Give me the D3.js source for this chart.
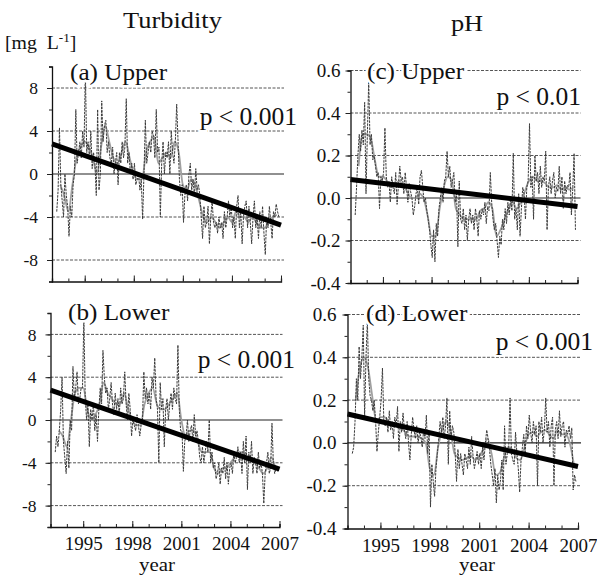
<!DOCTYPE html>
<html><head><meta charset="utf-8">
<script src="https://cdn.jsdelivr.net/npm/d3@7/dist/d3.min.js"></script>
<style>
body{margin:0;background:#fff}
svg{background:#fff}
</style>
</head><body><svg id="c" width="597" height="578"></svg>
<script>
// ---------- DATA ----------
// monthly anomalies, first value = April 1993
const startYear = 1993, startMonth = 4;
const turbUpper = [
 -3.5,-1.5,4.3,-1,-2.5,-4,0,-2,-3,
 -5.8,-3,-4,-1,0,6,1,2,3,1.5,4,2.5,
 9.5,2,3,1.5,4,0.5,2,1,-2,6,-1.5,0,
 6.8,3,4.5,5,2,3,1.5,1,2.5,0,1,2,
 -1,2,1,3,1.5,2.5,7,1,2,0,1,-0.5,
 1,-1,-0.5,0,-1.5,-0.5,-4.2,0,5,1,2,3,
 2,4,3.5,1.5,6,2,2.5,-4,1,3,0,2,
 1.5,3,0,4,2,1,3,6.5,3,-0.5,-2,-1,
 -4.5,-2,-1,-2.5,0,1,-1.5,-0.5,-2,0.5,-1.5,-1,
 -2,-4,-6,-3,-5,-4.5,-3,-6.5,-4,-2.5,-4.5,-5,
 -4.5,-5.5,-4,-5,-4.5,-6,-3.5,-5,-4,-2.5,-4,-3,
 -5,-4,-6,-3,-2,-5,-3.5,-6.5,-4,-3,-2.5,-5,
 -3,-4.5,-6.5,-4,-2.5,-5,-4,-6,-3.5,-5,-3,-5.5,
 -7.5,-4,-5,-3,-4.5,-6,-3.5,-4,-2.8,-3.5,-4];
const turbLower = [
 -3,-1.5,-2.5,-1,1,4,-2,-3.5,-5,
 -2,-4.5,0,-1,5,2,3,4.5,1.5,2,3,3,
 9.5,2,0,1.5,-2.5,1,0,1.5,-1,0.5,-2,1,
 3,1.5,6.5,4,2.5,3,1,2,3.5,1.5,0.5,2.5,
 1,2,0.5,3,1.5,2,4.5,1.5,0,2.5,1,-1.5,
 0,-0.5,-1,0.5,-0.5,-1.5,-0.5,0,4.5,2,3,1.5,
 2.5,1,4,3,5.8,2,1,-4,3.5,1,2,-2.5,
 1,2,0,1.5,2.5,1,3,2,1.5,7,1,-1,
 -1,-4.8,-2,-1.5,0,-2,-1,-0.5,-2,0.5,-1.5,-1,
 -2,-3.5,-4,-2.5,-4,-3,-2,-3,0,-4,-3,-4.5,
 -4,-5.5,-5,-4,-6,-4.5,-5,-3.5,-5.5,-4,-6,-4.5,
 -4,-5,-3,-4,-3.5,-2.5,-4,-3,-5,-2,-4,-1.5,
 -6.5,-3,-4,-2,-5,-3.5,-4,-5,-3,-4.5,-4,-5,
 -7.8,-5,-4,-3,-5,-4.5,-0.3,-4,-5,-4.5,-4.8];
const phUpper = [
 -0.08,0.05,0.2,0.3,0.22,0.32,0.25,0.45,0.02,
 0.3,0.55,0.25,0.3,0.18,0.2,0.15,0.1,0.12,-0.05,0.1,0.08,
 0.12,0.33,0.1,0.05,0.08,-0.02,0.1,0.05,0.02,0.12,-0.03,0.06,
 0.15,0.08,0.1,0.02,0.12,0.05,-0.02,0.07,0.03,0,-0.08,-0.04,
 0.02,0.05,-0.03,0.1,0.13,0.05,-0.02,0,-0.06,-0.1,-0.15,-0.22,
 -0.28,-0.15,-0.3,-0.12,-0.18,-0.05,0,0.05,-0.02,0.08,0.1,0.22,
 0.1,0.15,0.05,0.08,0.12,-0.02,0.02,-0.23,0.08,-0.1,-0.12,-0.05,
 -0.15,-0.08,-0.2,-0.1,-0.05,-0.12,-0.08,-0.15,-0.05,-0.1,-0.18,-0.06,
 -0.1,-0.05,-0.08,-0.02,-0.12,-0.04,-0.06,0.12,-0.02,-0.1,-0.15,-0.12,
 -0.2,-0.28,-0.18,-0.22,-0.1,-0.15,-0.05,-0.12,-0.02,-0.08,0,-0.06,
 0.21,-0.1,-0.05,-0.15,0.02,-0.18,-0.05,0.05,0.02,-0.1,0.05,0.08,
 0.35,0.05,0.1,-0.1,0.2,0.08,0.12,0.02,0.15,0.05,0.1,0.08,
 0.22,-0.15,0.05,0.1,0.02,0.08,0.12,0,0.05,0.03,0.15,0.02,
 0.1,-0.05,0.08,0.02,0.06,0.05,0.12,-0.08,0.04,0.21,-0.15];
const phLower = [
 -0.05,-0.02,0.1,0.3,0.2,0.45,0.3,0.4,0.55,
 0.12,0.4,0.57,0.3,0.22,0.2,0.15,0.2,0.1,-0.04,0.05,0.12,
 0.2,0.35,0.1,0.08,0.12,0.05,0.15,0.06,0.1,0.02,0.12,0.08,
 0.17,-0.04,0.1,0.05,0.14,0.06,0.02,0.1,0,-0.08,0.04,0.12,
 0.06,0.02,0.08,0,0.05,0.03,-0.02,0.06,0.02,0.13,-0.05,0.05,
 -0.3,-0.1,-0.18,-0.25,-0.12,-0.05,0.02,0.1,0.05,0.12,0.02,0.08,
 0.21,-0.1,0.15,0.02,0.08,0.05,-0.05,-0.18,-0.03,-0.12,-0.05,-0.1,
 -0.15,-0.05,-0.08,-0.12,-0.02,-0.1,0.03,-0.06,-0.12,-0.08,-0.04,-0.1,
 -0.05,-0.12,-0.02,-0.08,0,0.06,0.02,-0.03,-0.1,-0.15,-0.2,-0.12,
 -0.28,-0.15,-0.22,-0.18,-0.08,-0.22,0.08,-0.1,-0.05,-0.02,0.21,-0.05,
 -0.08,-0.1,0.05,-0.05,-0.12,-0.23,-0.08,-0.02,0.04,-0.05,0.08,0.02,
 0.13,0.05,0,0.1,0.04,0.08,-0.2,0.1,0.05,0.12,0,0.06,
 0.21,0.05,0.1,-0.02,0.08,0.12,-0.2,0.06,0.1,0.02,0.15,0.03,
 0.08,0.1,-0.02,0.06,0.04,0.08,0.02,0.07,-0.22,-0.15,-0.18];

// smoothed curves, quarterly from 1993.5
const smoothStart = 1993.5;
const turbUpperSmooth = [-1,-2,-3.5,-1,1.5,2.5,3,2.5,1.5,0,2.5,4.5,3,1.5,1,2,3,1.5,0,-0.5,-0.5,2,3,3.5,1,1.5,2,1.5,3,2,-1,-1.5,-0.5,-1,-2.5,-4,-4.5,-4,-4.5,-5,-4.5,-4,-4.5,-3.5,-4,-4,-4.5,-4,-4.5,-5,-5,-4.5,-4,-3.8];
const turbLowerSmooth = [-1,-1.5,-2.5,0,2.5,3,3,1,0,0.5,1.5,3.5,2.5,2,1.5,1.5,2.5,1,0,-0.5,-0.5,1.5,2.5,3,1.5,1,1,1.5,2,2.5,0,-1.5,-1,-1,-2,-3,-3,-3,-4.5,-5,-4.5,-4.5,-4,-3.5,-3,-3,-3.5,-3.5,-4,-4.5,-5,-4.5,-3.5,-4.5];
const phUpperSmooth = [0.15,0.3,0.3,0.28,0.18,0.1,0.1,0.08,0.05,0.06,0.08,0.06,0.03,0,0,0.02,0,-0.08,-0.18,-0.18,-0.05,0.05,0.1,0.08,-0.05,-0.08,-0.1,-0.1,-0.1,-0.1,-0.06,-0.05,-0.02,-0.05,-0.18,-0.15,-0.1,-0.05,-0.02,-0.05,-0.02,0.03,0.08,0.1,0.08,0.08,0.07,0.05,0.05,0.06,0.04,0.05,0.04,0.05];
const phLowerSmooth = [0.2,0.35,0.4,0.35,0.22,0.1,0.12,0.12,0.1,0.08,0.08,0.07,0.05,0.03,0.03,0.03,0.02,0,-0.12,-0.15,-0.02,0.06,0.1,0.06,-0.05,-0.07,-0.08,-0.07,-0.06,-0.08,-0.06,-0.03,0.02,-0.05,-0.15,-0.14,-0.07,-0.02,-0.03,-0.07,-0.08,-0.02,0.04,0.05,0.03,0.05,0.06,0.04,0.02,0.06,0.04,0.04,0,-0.1];

// linear trends: value at 1993 and 2007
const trendYears = [1993, 2007];
const turbUpperTrend = [2.8, -4.75];
const turbLowerTrend = [2.8, -4.6];
const phUpperTrend = [0.087, -0.04];
const phLowerTrend = [0.135, -0.11];

const turbTicks = [-8,-4,0,4,8];
const phTicks = [-0.4,-0.2,0,0.2,0.4,0.6];
const yearLabels = [1995,1998,2001,2004,2007];
const panelLabels = ["(a) Upper","(b) Lower","(c) Upper","(d) Lower"];
const pLabels = ["p < 0.001","p < 0.001","p < 0.01","p < 0.001"];
const columnTitles = ["Turbidity","pH"];

// ---------- LAYOUT ----------
const FONT = "'Liberation Serif','Times New Roman',Times,serif";
const svg = d3.select("#c");

// text helper: horizontally widened serif text (scan is slightly stretched)
function addText(parent, x, y, str, size, anchor, sx, halo){
  const g = parent.append("g").attr("transform",`translate(${x},${y}) scale(${sx},1)`);
  const t = g.append("text").attr("x",0).attr("y",0).attr("font-family",FONT)
    .attr("font-size",size).attr("text-anchor",anchor||"start").attr("fill","#111").text(str);
  if (halo) t.attr("stroke","#fff").attr("stroke-width",halo).attr("paint-order","stroke");
  return t;
}

const panels = [
 {raw:turbUpper, sm:turbUpperSmooth, tr:turbUpperTrend, dom:[-10,10], ticks:turbTicks, minor:2, xr:[52,281], yr:[281.5,66.5], lab:panelLabels[0], p:pLabels[0], labXY:[70,80], pXY:[297,125], fmt:v=>String(v), lblGap:14, tsz:17.5, xlab:false},
 {raw:turbLower, sm:turbLowerSmooth, tr:turbLowerTrend, dom:[-10,10], ticks:turbTicks, minor:2, xr:[50.5,279.5], yr:[527,313], lab:panelLabels[1], p:pLabels[1], labXY:[68,320], pXY:[295,368], fmt:v=>String(v), lblGap:14, tsz:17.5, xlab:true},
 {raw:phUpper, sm:phUpperSmooth, tr:phUpperTrend, dom:[-0.4,0.6], ticks:phTicks, minor:0.1, xr:[350.5,577.5], yr:[283,70.5], lab:panelLabels[2], p:pLabels[2], labXY:[367,79], pXY:[581,105], fmt:v=>v.toFixed(1), lblGap:10, tsz:19, xlab:false},
 {raw:phLower, sm:phLowerSmooth, tr:phLowerTrend, dom:[-0.4,0.6], ticks:phTicks, minor:0.1, xr:[347.5,578], yr:[528.5,314.5], lab:panelLabels[3], p:pLabels[3], labXY:[366,321], pXY:[593,350], fmt:v=>v.toFixed(1), lblGap:11, tsz:19, xlab:true}
];

panels.forEach((P,i)=>{
  const x = d3.scaleLinear().domain([1993,2007]).range(P.xr);
  const y = d3.scaleLinear().domain(P.dom).range(P.yr);
  const g = svg.append("g");
  const x0 = P.xr[0], x1 = P.xr[1];
  const clipId = "clip"+i;
  svg.append("clipPath").attr("id",clipId).append("rect")
    .attr("x",x0).attr("y",P.yr[1]).attr("width",x1-x0+4).attr("height",P.yr[0]-P.yr[1]);

  // grid lines
  P.ticks.forEach(v=>{
    if (Math.abs(v-P.dom[0])<1e-9) return;
    const zero = Math.abs(v)<1e-9;
    g.append("line").attr("x1",x0).attr("x2",x1+3).attr("y1",y(v)).attr("y2",y(v))
      .attr("stroke",zero?"#222":"#555").attr("stroke-width",zero?1.2:1)
      .attr("stroke-dasharray",zero?null:"3,1.5");
  });

  const dataG = g.append("g").attr("clip-path",`url(#${clipId})`);
  // smoothed curve
  const smPts = P.sm.map((v,k)=>[smoothStart+k*0.25, v]);
  dataG.append("path").datum(smPts)
    .attr("d", d3.line().x(d=>x(d[0])).y(d=>y(d[1])).curve(d3.curveMonotoneX))
    .attr("fill","none").attr("stroke","#a0a0a0").attr("stroke-width",1.8);
  // raw monthly
  const rawPts = P.raw.map((v,k)=>[startYear+(startMonth-1+k)/12+0.04, v]);
  dataG.append("path").datum(rawPts)
    .attr("d", d3.line().x(d=>x(d[0])).y(d=>y(d[1])))
    .attr("fill","none").attr("stroke","#3a3a3a").attr("stroke-width",1)
    .attr("stroke-dasharray","2.5,1");
  // trend
  g.append("line")
    .attr("x1",x(trendYears[0])).attr("y1",y(P.tr[0]))
    .attr("x2",x(trendYears[1])).attr("y2",y(P.tr[1]))
    .attr("stroke","#000").attr("stroke-width",5);

  // axes
  const yAxis = d3.axisLeft(y).tickValues(d3.range(P.dom[0], P.dom[1]+P.minor/2, P.minor)).tickSize(3).tickFormat("");
  g.append("g").attr("transform",`translate(${x0},0)`).call(yAxis)
    .call(a=>{a.select(".domain").attr("stroke","#111").attr("stroke-width",1.3);a.selectAll(".tick line").attr("stroke","#222");});
  const yLab = d3.axisLeft(y).tickValues(P.ticks).tickSize(5).tickPadding(P.lblGap-5).tickFormat(P.fmt);
  g.append("g").attr("transform",`translate(${x0},0)`).call(yLab)
    .call(a=>{a.select(".domain").remove();a.selectAll(".tick line").attr("stroke","#222");
      a.attr("font-family",FONT);
      a.selectAll("text").attr("font-size",P.tsz).attr("fill","#111");});

  const xMinor = d3.axisTop(x).tickValues(d3.range(1994,2008)).tickSize(3).tickFormat("");
  g.append("g").attr("transform",`translate(0,${P.yr[0]})`).call(xMinor)
    .call(a=>{a.select(".domain").attr("stroke","#111").attr("stroke-width",1.3);a.selectAll(".tick line").attr("stroke","#222");});
  const xMajor = d3.axisTop(x).tickValues(yearLabels).tickSize(6).tickFormat("");
  g.append("g").attr("transform",`translate(0,${P.yr[0]})`).call(xMajor)
    .call(a=>{a.select(".domain").remove();a.selectAll(".tick line").attr("stroke","#222");});
  if (P.xlab){
    const xl = d3.axisBottom(x).tickValues(yearLabels).tickSize(0).tickPadding(10).tickFormat(d3.format("d"));
    g.append("g").attr("transform",`translate(0,${P.yr[0]})`).call(xl)
      .call(a=>{a.select(".domain").remove(); a.attr("font-family",FONT);
        a.selectAll("text").attr("font-size",19).attr("fill","#111");});
    addText(g, i==1?157:477, 571, "year", 19, "middle", 1.1);
  }

  // labels with white halo to break grid lines
  addText(g, P.labXY[0], P.labXY[1], P.lab, 24, "start", 1.05, 5);
  addText(g, P.pXY[0], P.pXY[1], P.p, 25.5, "end", 1, 4);
});

// column titles and unit
addText(svg, 172.5, 28, columnTitles[0], 24, "middle", 1.1);
addText(svg, 467, 31, columnTitles[1], 24, "middle", 1.1);
const unitG = svg.append("g").attr("transform","translate(5,49) scale(1.1,1)");
const unit = unitG.append("text").attr("x",0).attr("y",0).attr("font-family",FONT).attr("font-size",18).attr("fill","#111").attr("xml:space","preserve");
unit.append("tspan").text("[mg  L");
unit.append("tspan").attr("font-size",12).attr("dy",-7).text("-1");
unit.append("tspan").attr("dy",7).text("]");
</script>
</body></html>
